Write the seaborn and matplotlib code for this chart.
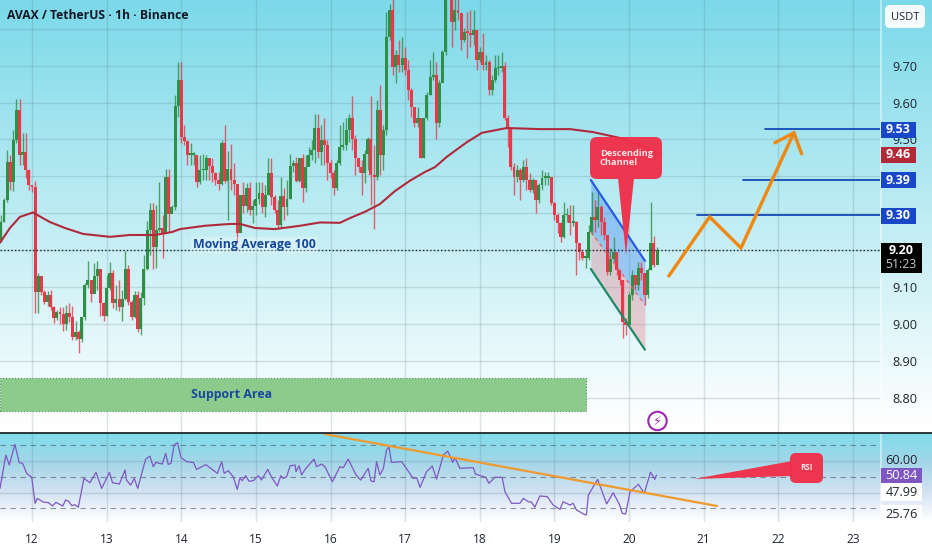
import numpy as np
import pandas as pd
import matplotlib.pyplot as plt
from matplotlib.colors import LinearSegmentedColormap
from matplotlib.patches import Circle, FancyBboxPatch, Polygon, Rectangle
import seaborn as sns

# hourly candles, first one is 10 hours before the "12" tick
first_hour = -10
first_open = 9.227
closes = [
    9.276, 9.336, 9.439, 9.385, 9.499, 9.580, 9.458, 9.466, 9.417, 9.377,
    9.371, 9.087, 9.130, 9.087, 9.060, 9.079, 9.046, 9.016, 9.033, 9.027,
    9.000, 9.030, 9.019, 8.965, 8.978, 8.960, 9.019, 9.106, 9.119, 9.081,
    9.130, 9.149, 9.057, 9.022, 9.098, 9.138, 9.057, 9.068, 9.046, 9.068,
    9.149, 9.060, 9.019, 9.079, 8.987, 9.070, 9.149, 9.255, 9.309, 9.209,
    9.255, 9.260, 9.247, 9.398, 9.298, 9.317, 9.591, 9.661, 9.507, 9.496,
    9.458, 9.458, 9.458, 9.385, 9.417, 9.417, 9.450, 9.428, 9.409, 9.390,
    9.379, 9.490, 9.387, 9.420, 9.390, 9.379, 9.247, 9.350, 9.320, 9.369,
    9.309, 9.320, 9.339, 9.355, 9.317, 9.350, 9.409, 9.344, 9.309, 9.268,
    9.347, 9.317, 9.339, 9.428, 9.436, 9.387, 9.450, 9.369, 9.425, 9.458,
    9.472, 9.531, 9.466, 9.499, 9.485, 9.436, 9.409, 9.369, 9.436, 9.480,
    9.485, 9.526, 9.558, 9.501, 9.450, 9.425, 9.409, 9.461, 9.501, 9.404,
    9.398, 9.580, 9.458, 9.526, 9.778, 9.851, 9.696, 9.729, 9.702, 9.721,
    9.688, 9.634, 9.588, 9.545, 9.558, 9.450, 9.558, 9.620, 9.669, 9.675,
    9.545, 9.653, 9.737, 9.892, 9.905, 9.818, 9.851, 9.843, 9.770, 9.791,
    9.789, 9.783, 9.797, 9.715, 9.737, 9.702, 9.710, 9.634, 9.661, 9.693,
    9.693, 9.699, 9.558, 9.531, 9.425, 9.398, 9.417, 9.390, 9.425, 9.390,
    9.363, 9.390, 9.336, 9.377, 9.396, 9.396, 9.398, 9.328, 9.295, 9.274,
    9.236, 9.295, 9.295, 9.274, 9.276, 9.220, 9.195, 9.179, 9.179, 9.249,
    9.290, 9.282, 9.317, 9.276, 9.241, 9.141, 9.176, 9.195, 9.146, 9.119,
    9.005, 8.997, 9.079, 9.133, 9.106, 9.152, 9.138, 9.079, 9.146, 9.220,
    9.160, 9.201,
]
highs = [
    9.295, 9.341, 9.472, 9.458, 9.526, 9.610, 9.610, 9.518, 9.518, 9.420,
    9.377, 9.387, 9.138, 9.130, 9.092, 9.089, 9.092, 9.049, 9.038, 9.046,
    9.046, 9.051, 9.057, 9.049, 9.008, 8.984, 9.019, 9.111, 9.171, 9.119,
    9.165, 9.171, 9.149, 9.060, 9.133, 9.168, 9.146, 9.106, 9.119, 9.092,
    9.198, 9.160, 9.065, 9.089, 9.089, 9.087, 9.187, 9.279, 9.328, 9.328,
    9.322, 9.385, 9.295, 9.420, 9.420, 9.322, 9.621, 9.710, 9.710, 9.539,
    9.499, 9.490, 9.466, 9.453, 9.458, 9.461, 9.458, 9.450, 9.450, 9.412,
    9.412, 9.499, 9.539, 9.469, 9.488, 9.436, 9.379, 9.350, 9.385, 9.382,
    9.385, 9.336, 9.385, 9.385, 9.385, 9.377, 9.450, 9.450, 9.350, 9.336,
    9.398, 9.369, 9.390, 9.461, 9.444, 9.453, 9.450, 9.461, 9.458, 9.480,
    9.499, 9.569, 9.569, 9.539, 9.558, 9.499, 9.444, 9.417, 9.444, 9.539,
    9.547, 9.558, 9.569, 9.618, 9.512, 9.444, 9.444, 9.472, 9.507, 9.618,
    9.485, 9.607, 9.648, 9.539, 9.845, 9.867, 9.883, 9.743, 9.770, 9.778,
    9.751, 9.715, 9.640, 9.588, 9.588, 9.558, 9.558, 9.629, 9.715, 9.737,
    9.710, 9.661, 9.743, 9.892, 9.919, 9.905, 9.892, 9.892, 9.843, 9.802,
    9.845, 9.851, 9.851, 9.797, 9.751, 9.789, 9.729, 9.715, 9.675, 9.729,
    9.729, 9.737, 9.710, 9.566, 9.531, 9.436, 9.431, 9.423, 9.444, 9.450,
    9.409, 9.396, 9.390, 9.382, 9.417, 9.412, 9.412, 9.398, 9.331, 9.301,
    9.276, 9.331, 9.314, 9.322, 9.322, 9.279, 9.220, 9.201, 9.201, 9.268,
    9.358, 9.336, 9.358, 9.322, 9.290, 9.241, 9.206, 9.236, 9.195, 9.146,
    9.119, 9.016, 9.087, 9.146, 9.133, 9.168, 9.168, 9.138, 9.152, 9.331,
    9.238, 9.209,
]
lows = [
    9.222, 9.276, 9.331, 9.363, 9.360, 9.490, 9.431, 9.431, 9.396, 9.363,
    9.358, 9.030, 9.030, 9.079, 9.054, 9.049, 9.038, 9.003, 9.011, 9.000,
    8.981, 8.984, 9.005, 8.957, 8.957, 8.922, 8.951, 9.011, 9.098, 9.060,
    9.087, 9.092, 9.022, 9.008, 9.022, 9.092, 9.043, 9.038, 9.035, 9.008,
    9.065, 9.051, 9.011, 9.016, 8.978, 8.970, 9.051, 9.146, 9.187, 9.149,
    9.152, 9.249, 9.179, 9.263, 9.249, 9.303, 9.309, 9.561, 9.490, 9.485,
    9.431, 9.431, 9.431, 9.371, 9.379, 9.390, 9.390, 9.390, 9.385, 9.377,
    9.363, 9.377, 9.382, 9.282, 9.363, 9.350, 9.220, 9.249, 9.301, 9.303,
    9.295, 9.274, 9.295, 9.325, 9.301, 9.290, 9.350, 9.322, 9.301, 9.260,
    9.260, 9.282, 9.295, 9.339, 9.412, 9.385, 9.385, 9.331, 9.358, 9.431,
    9.444, 9.436, 9.450, 9.431, 9.431, 9.390, 9.396, 9.350, 9.363, 9.431,
    9.472, 9.472, 9.493, 9.472, 9.404, 9.412, 9.350, 9.382, 9.417, 9.322,
    9.257, 9.390, 9.404, 9.417, 9.512, 9.770, 9.675, 9.653, 9.683, 9.683,
    9.675, 9.607, 9.561, 9.534, 9.534, 9.450, 9.450, 9.553, 9.620, 9.661,
    9.501, 9.534, 9.656, 9.729, 9.883, 9.751, 9.797, 9.824, 9.743, 9.764,
    9.721, 9.751, 9.756, 9.688, 9.710, 9.688, 9.688, 9.620, 9.620, 9.656,
    9.675, 9.683, 9.553, 9.480, 9.417, 9.350, 9.385, 9.336, 9.385, 9.363,
    9.358, 9.355, 9.301, 9.328, 9.363, 9.377, 9.377, 9.322, 9.282, 9.247,
    9.222, 9.233, 9.276, 9.241, 9.266, 9.133, 9.173, 9.173, 9.152, 9.173,
    9.241, 9.249, 9.263, 9.241, 9.228, 9.133, 9.133, 9.168, 9.133, 9.106,
    8.962, 8.970, 8.997, 9.065, 9.092, 9.092, 9.119, 9.051, 9.070, 9.146,
    9.154, 9.165,
]

ma_hours = [-10.3, -7.1, -3.9, 0.3, 5.8, 10.6, 16.4, 25.1, 31.5, 39.5, 45, 47.6, 55.6,
            63.7, 66.9, 71.7, 78.1, 86.2, 92.6, 99, 102.3, 107.1, 111.9, 116.7, 121.5,
            126.4, 129.6, 133.4, 139.9, 144.7, 152.7, 163.3, 173, 180.4, 189.1, 195.5, 201.3]
ma_values = [9.220, 9.260, 9.290, 9.302, 9.276, 9.260, 9.244, 9.236, 9.241, 9.241, 9.249,
             9.257, 9.266, 9.271, 9.271, 9.260, 9.257, 9.266, 9.275, 9.274, 9.287, 9.304,
             9.325, 9.360, 9.388, 9.412, 9.425, 9.453, 9.493, 9.518, 9.531, 9.528, 9.528,
             9.520, 9.504, 9.485, 9.461]

rsi_hours = [-10.3, -8.4, -7.3, -5.5, -4.1, -3.0, -1.7, -0.1, 1.0, 1.7, 3.6, 5.3, 6.6, 7.7,
             9.9, 10.8, 11.7, 12.8, 13.8, 14.9, 16.7, 18.6, 20.6, 22.4, 24.9, 25.9, 28.1,
             29.9, 30.4, 31.7, 32.9, 34.0, 36.5, 37.9, 39.0, 39.8, 41.9, 43.0, 43.8, 44.7,
             45.7, 46.8, 47.9, 49.7, 51.9, 52.9, 55.9, 59.6, 61.0, 61.8, 63.1, 64.7, 66.0,
             66.9, 67.6, 68.7, 69.8, 71.2, 72.8, 73.8, 75.8, 77.1, 78.9, 80.0, 80.8, 81.9,
             83.0, 84.6, 84.9, 85.9, 86.7, 87.8, 90.7, 91.5, 93.1, 94.2, 96.6, 99.0, 100.1,
             101.7, 104.2, 105.7, 108.1, 109.0, 110.0, 110.8, 111.9, 113.0, 114.0, 114.8,
             115.6, 118.9, 122.6, 123.7, 124.8, 126.9, 128.7, 130.1, 132.3, 133.7, 135.3,
             136.0, 137.6, 141.9, 142.6, 144.6, 146.0, 146.9, 148.9, 151.2, 152.1, 154.2,
             156.9, 158.0, 159.6, 160.6, 161.7, 163.3, 165.7, 167.6, 169.8, 170.8, 173.0,
             174.0, 175.1, 177.8, 178.3, 178.9, 181.9, 184.8, 186.9, 189.0, 189.8, 190.9,
             192.3, 195.0, 196.9, 198.9, 200.3, 200.8]
rsi_values = [42.6, 63.7, 57.4, 70.4, 58.8, 58.4, 52.1, 49.6, 33.2, 36.3, 34.0, 33.6, 31.5,
              33.8, 31.5, 35.3, 34.6, 31.7, 32.3, 30.7, 48.9, 46.2, 52.7, 42.6, 52.7, 46.2,
              45.4, 54.2, 47.9, 44.7, 48.9, 42.6, 60.9, 63.0, 56.3, 59.0, 58.0, 64.7, 57.8,
              58.4, 70.0, 71.5, 62.2, 59.5, 59.0, 54.6, 57.6, 52.1, 59.5, 52.1, 53.8, 50.0,
              42.0, 49.4, 47.5, 50.6, 47.1, 47.5, 50.6, 47.9, 54.6, 49.6, 44.1, 50.6, 48.9,
              50.0, 56.9, 57.4, 53.2, 56.9, 51.1, 54.6, 61.1, 56.3, 58.0, 56.3, 46.8, 56.3,
              55.7, 61.1, 51.1, 47.9, 55.3, 47.3, 46.8, 59.5, 51.1, 55.3, 66.8, 68.9, 59.0,
              59.5, 48.9, 49.4, 43.3, 53.2, 56.7, 48.5, 63.7, 66.2, 59.0, 62.0, 55.3, 55.7,
              51.7, 50.4, 49.6, 45.8, 49.6, 49.6, 40.5, 33.2, 33.2, 36.3, 34.2, 34.0, 30.7,
              37.8, 37.4, 32.1, 29.4, 34.2, 32.1, 33.2, 29.0, 26.0, 26.0, 38.4, 48.3, 32.8,
              39.9, 32.1, 26.9, 26.4, 40.5, 45.2, 39.5, 52.9, 48.3, 51.1]

day_labels = ['12', '13', '14', '15', '16', '17', '18', '19', '20', '21', '22', '23']
price_ticks = [8.8, 8.9, 9.0, 9.1, 9.2, 9.3, 9.4, 9.5, 9.6, 9.7, 9.8]
price_labels = ['8.80', '8.90', '9.00', '9.10', '', '', '', '9.50', '9.60', '9.70', '']

# drawings on the chart
last_price = 9.2
target_levels = [9.527, 9.389, 9.294]
target_labels = ['9.53', '9.39', '9.30']
target_starts = [235.7, 228.6, 213.8]
support_low, support_high = 8.765, 8.853
support_end = 178.1
channel_hours = [179.7, 197.1]
channel_top = [9.390, 9.171]
channel_mid = [9.250, 9.052]
channel_bottom = [9.149, 8.930]
path_hours = [204.8, 217.9, 228.0, 245.0]
path_prices = [9.130, 9.290, 9.206, 9.518]
head_hours = [238.9, 245.0, 247.5]
head_prices = [9.491, 9.518, 9.461]
rsi_trend_hours = [94.2, 220.3]
rsi_trend_values = [76.9, 31.5]

GREEN = '#2f8f46'
RED = '#e8394a'
BLUE = '#1848c8'
ORANGE = '#f0870f'
TEXT = '#1f2430'
FONT = 'Open Sans'

sns.set_theme(style='white')
plt.rcParams['font.family'] = [FONT, 'DejaVu Sans']

candles = pd.DataFrame({'hour': first_hour + np.arange(len(closes)),
                        'close': closes, 'high': highs, 'low': lows})
candles['open'] = candles['close'].shift(1).fillna(first_open)
candles['up'] = candles['close'] >= candles['open']

W, H = 932, 550
fig = plt.figure(figsize=(W / 100, H / 100), dpi=100)

# background gradients, white at the bottom of each pane
bg = fig.add_axes([0, 0, 1, 1], zorder=0)
bg.set_xlim(0, W)
bg.set_ylim(H, 0)
bg.axis('off')
main_cmap = LinearSegmentedColormap.from_list('main', ['#7bd9e9', '#bdecf3', '#ffffff'])
rsi_cmap = LinearSegmentedColormap.from_list('rsi', ['#7edcea', '#a4d6e8', '#d2e2f2', '#ffffff'])
ramp = np.linspace(0, 1, 256).reshape(-1, 1)
bg.imshow(ramp, cmap=main_cmap, extent=[0, W, 425, 0], aspect='auto')
bg.imshow(ramp, cmap=rsi_cmap, extent=[0, W, 521, 433], aspect='auto')
bg.set_xlim(0, W)
bg.set_ylim(H, 0)
bg.axvline(880.5, ymin=1 - 521 / H, ymax=1, color='white', alpha=0.55, lw=1.2)

ax = fig.add_axes([0, 1 - 432 / H, 880 / W, 432 / H], zorder=2)
rsi_ax = fig.add_axes([0, 1 - 521.5 / H, 880 / W, 88.5 / H], zorder=2)
for a in (ax, rsi_ax):
    a.patch.set_alpha(0)
    a.set_xlim(-10.29, 272.7)
    a.set_xticks(np.arange(len(day_labels)) * 24)
    a.grid(True, color='#54727c', alpha=0.2, lw=1)
    a.set_axisbelow(True)
    a.tick_params(length=0)
    a.set_xlabel('')
    a.set_ylabel('')
    for side in a.spines.values():
        side.set_visible(False)

# main price pane
ax.set_ylim(8.707, 9.878)
ax.set_yticks(price_ticks)
ax.yaxis.tick_right()
ax.set_yticklabels(price_labels, fontsize=9.2, color=TEXT)
ax.tick_params(axis='y', pad=9)
ax.set_xticklabels([])

ax.add_patch(Rectangle((-10.29, support_low), support_end + 10.29, support_high - support_low,
                       fc='#8ccb8c', ec='#4d8f55', lw=0.8, ls=':', zorder=1))
ax.text(64, (support_low + support_high) / 2, 'Support Area', color='#17489c', fontsize=8.9,
        fontweight='bold', ha='center', va='center', zorder=6)

ax.fill_between(channel_hours, channel_mid, channel_top, color='#3f86ee', alpha=0.38, lw=0, zorder=1)
ax.fill_between(channel_hours, channel_bottom, channel_mid, color='#ef6b78', alpha=0.3, lw=0, zorder=1)

colors = candles['up'].map({True: GREEN, False: RED})
ax.vlines(candles['hour'], candles['low'], candles['high'], colors=colors, lw=1, alpha=0.8, zorder=3)
ax.bar(candles['hour'], (candles['close'] - candles['open']).abs().clip(lower=0.004),
       bottom=candles[['open', 'close']].min(axis=1), width=0.95, color=colors, lw=0, zorder=3)

sns.lineplot(x=ma_hours, y=ma_values, ax=ax, color='#b02a3c', lw=1.5, sort=False, zorder=4)

ax.axhline(last_price, color='#1c2430', lw=1, ls=(0, (1, 1.6)), zorder=5)
ax.plot(channel_hours, channel_mid, color='#e2606e', lw=0.9, ls=(0, (3, 3)), zorder=4)
ax.plot(channel_hours, channel_top, color='#2a5be0', lw=1.6, zorder=5)
ax.plot(channel_hours, channel_bottom, color='#1f8a68', lw=1.6, zorder=5)

for level, start in zip(target_levels, target_starts):
    ax.plot([start, 272.7], [level, level], color='#1449b8', lw=1.3, zorder=5)
ax.plot(path_hours, path_prices, color=ORANGE, lw=2.4, solid_joinstyle='miter', zorder=6)
ax.plot(head_hours, head_prices, color=ORANGE, lw=2.4, solid_joinstyle='miter', zorder=6)

ax.text(71.5, 9.214, 'Moving Average 100', color='#17489c', fontsize=8.9, ha='center', va='center',
        fontweight='bold', zorder=6,
        bbox=dict(fc='white', ec='none', alpha=0.28, boxstyle='square,pad=0.12'))
ax.text(0.0085, 0.9635, 'AVAX / TetherUS · 1h · Binance', transform=ax.transAxes, color='#121826',
        fontsize=8.7, fontweight='bold', ha='left', va='center', zorder=7)

# callout with the tail pointing into the channel, in pixels of the figure
over = fig.add_axes([0, 0, 1, 1], zorder=3)
over.set_xlim(0, W)
over.set_ylim(H, 0)
over.axis('off')
over.patch.set_alpha(0)
CALLOUT = '#f0304a'
over.add_patch(FancyBboxPatch((595, 142), 62, 32, boxstyle='round,pad=5,rounding_size=7', fc=CALLOUT, ec='none', alpha=0.97))
over.add_patch(Polygon([(618, 178), (634, 178), (626, 255)], fc=CALLOUT, ec='none', alpha=0.97))
over.text(600, 158, 'Descending\nChannel', color='#fbe4e6', fontsize=6.7, fontweight='bold',
          va='center', ha='left', linespacing=1.05)

over.add_patch(FancyBboxPatch((795, 458), 23, 20, boxstyle='round,pad=5,rounding_size=6', fc=CALLOUT, ec='none', alpha=0.97))
over.add_patch(Polygon([(694, 479), (792, 461), (792, 476)], fc=CALLOUT, ec='none', alpha=0.97))
over.text(806.5, 467, 'RSI', color='#fbe4e6', fontsize=5.8, fontweight='bold', ha='center', va='center')

over.add_patch(Circle((657.5, 421), 9.2, fc='white', ec='#9c27b0', lw=1.5))
over.text(657.5, 421, '⚡', color='#9c27b0', fontsize=9, ha='center', va='center',
          family=['DejaVu Sans'])

# price labels on the right
def price_box(text, y0, y1, color, x1=916, fg='white'):
    over.add_patch(Rectangle((881, y0), x1 - 881, y1 - y0, fc=color, ec='none', zorder=5))
    over.text((881 + x1) / 2, (y0 + y1) / 2, text, color=fg, fontsize=9, fontweight='bold',
              ha='center', va='center', zorder=6)

for label, y0 in zip(target_labels, [121.7, 172, 207.7]):
    price_box(label, y0, y0 + 16, BLUE)
price_box('9.46', 147, 163, '#b22a38')
over.add_patch(Rectangle((881, 243), 41, 30, fc='black', ec='none', zorder=5))
over.text(901, 251, '9.20', color='white', fontsize=9, fontweight='bold', ha='center', va='center', zorder=6)
over.text(901, 265, '51:23', color='#c9c9c9', fontsize=8.8, ha='center', va='center', zorder=6)

over.add_patch(FancyBboxPatch((886, 6), 38, 21, boxstyle='round,pad=1,rounding_size=5', fc='white', ec='none', alpha=0.92))
over.text(905.5, 17, 'USDT', color=TEXT, fontsize=8, ha='center', va='center')

# RSI pane
rsi_ax.set_ylim(21.7, 77.6)
rsi_ax.set_yticks([40, 60])
rsi_ax.set_yticklabels([])
rsi_ax.set_xticklabels(day_labels, fontsize=8.6, color=TEXT)
rsi_ax.tick_params(axis='x', pad=8)
for band in (70, 50, 30):
    rsi_ax.axhline(band, color='#4a5560', lw=0.8, ls=(0, (5, 4)), alpha=0.6)
sns.lineplot(x=rsi_hours, y=rsi_values, ax=rsi_ax, color='#7e57c2', lw=0.9, sort=False, zorder=3)
rsi_ax.plot(rsi_trend_hours, rsi_trend_values, color='#ef9a2e', lw=1.6, zorder=4)
rsi_ax.set_xlabel('')
rsi_ax.set_ylabel('')

over.axhline(433.3, xmin=0, xmax=1, color='#20262e', lw=1.3)
over.add_patch(Rectangle((881, 468), 41, 15, fc='#7e57c2', ec='none', zorder=5))
over.text(901.5, 475.7, '50.84', color='white', fontsize=9.2, ha='center', va='center', zorder=6)
over.add_patch(Rectangle((881, 483), 41, 18, fc='white', ec='none', zorder=5))
over.add_patch(Rectangle((881, 505), 41, 18, fc='white', ec='none', zorder=5))
over.text(901.5, 460, '60.00', color=TEXT, fontsize=9.2, ha='center', va='center', zorder=6)
over.text(901.5, 492.5, '47.99', color=TEXT, fontsize=9.2, ha='center', va='center', zorder=6)
over.text(901.5, 514, '25.76', color=TEXT, fontsize=9.2, ha='center', va='center', zorder=6)

fig.savefig('out.png', dpi=100)
